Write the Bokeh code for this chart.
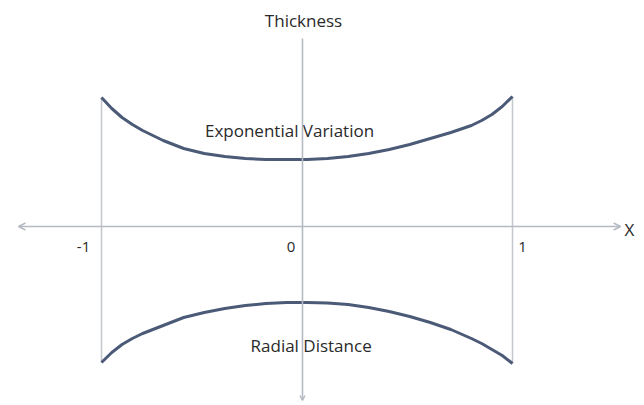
from bokeh.plotting import figure
from bokeh.models import ColumnDataSource, Arrow, OpenHead, Range1d
from bokeh.core.properties import value
from bokeh.embed import file_html
from bokeh.resources import INLINE

# Radial distance samples
x_pts = [-1.0, -0.95, -0.9, -0.85, -0.8, -0.7, -0.6, -0.5, -0.4, -0.3, -0.2, -0.1, 0.0,
         0.1, 0.2, 0.3, 0.4, 0.5, 0.6, 0.7, 0.8, 0.85, 0.9, 0.95, 1.0]
# Upper profile (Exponential Variation of thickness)
upper = [1.29, 1.18, 1.09, 1.02, 0.96, 0.86, 0.78, 0.73, 0.70, 0.68, 0.67, 0.67, 0.67,
         0.68, 0.70, 0.73, 0.77, 0.82, 0.88, 0.94, 1.01, 1.06, 1.12, 1.20, 1.30]
# Lower profile (mirror side)
lower = [-1.36, -1.26, -1.18, -1.12, -1.07, -0.99, -0.91, -0.86, -0.82, -0.79, -0.77, -0.76, -0.76,
         -0.765, -0.78, -0.81, -0.85, -0.90, -0.96, -1.03, -1.12, -1.17, -1.23, -1.29, -1.37]

tick_vals = [-1, 0, 1]
tick_labels = ["-1", "0", "1"]

FONT = "Open Sans"
TXT = "#2a2a2a"
AXC = "#b4bac4"
CURVE = "#4b5a76"

W, H = 644, 405
scale_x = 205.5
cx = 306.5
cy = 226.0
p = figure(width=W, height=H, output_backend="svg", toolbar_location=None,
           x_range=Range1d(-cx / scale_x, (W - cx) / scale_x),
           y_range=Range1d(-(H - cy) / 100.0, cy / 100.0),
           min_border=0)
p.axis.visible = False
p.grid.visible = False
p.outline_line_color = None
p.background_fill_color = "white"
p.border_fill_color = "white"

vx = -0.022  # vertical axis position

# horizontal axis with arrows on both sides
p.add_layout(Arrow(x_start=-1.404, y_start=0, x_end=1.526, y_end=0,
                   line_color=AXC, line_width=1.6,
                   start=OpenHead(size=7, line_color=AXC, line_width=1.4),
                   end=OpenHead(size=7, line_color=AXC, line_width=1.4)))
# vertical axis with arrow at bottom
p.add_layout(Arrow(x_start=vx, y_start=1.88, x_end=vx, y_end=-1.74,
                   line_color=AXC, line_width=1.6,
                   end=OpenHead(size=5, line_color=AXC, line_width=1.4)))

# edge lines at x = -1 and x = 1
p.segment(x0=[x_pts[0], x_pts[-1]], y0=[lower[0], lower[-1]],
          x1=[x_pts[0], x_pts[-1]], y1=[upper[0], upper[-1]],
          line_color="#c4c7cc", line_width=1.5)

src = ColumnDataSource(dict(x=x_pts, up=upper, lo=lower))
p.line("x", "up", source=src, line_color=CURVE, line_width=3, line_join="round")
p.line("x", "lo", source=src, line_color=CURVE, line_width=3, line_join="round")

# tick labels
tsrc = ColumnDataSource(dict(x=tick_vals, y=[0] * 3, t=tick_labels,
                             dx=[-18, -16, 10]))
p.text("x", "y", text="t", source=tsrc, x_offset="dx", y_offset=20,
       text_font=value(FONT), text_font_size="15px", text_color=TXT,
       text_align="center", text_baseline="middle")

labels = ColumnDataSource(dict(
    x=[vx + 0.005, 1.569, -0.085, 0.02],
    y=[2.06, -0.03, 0.96, -1.19],
    t=["Thickness", "X", "Exponential Variation", "Radial Distance"],
))
p.text("x", "y", text="t", source=labels, text_font=value(FONT),
       text_font_size="17px", text_color=TXT, text_align="center",
       text_baseline="middle")

open("out.html", "w").write(file_html(p, INLINE))
